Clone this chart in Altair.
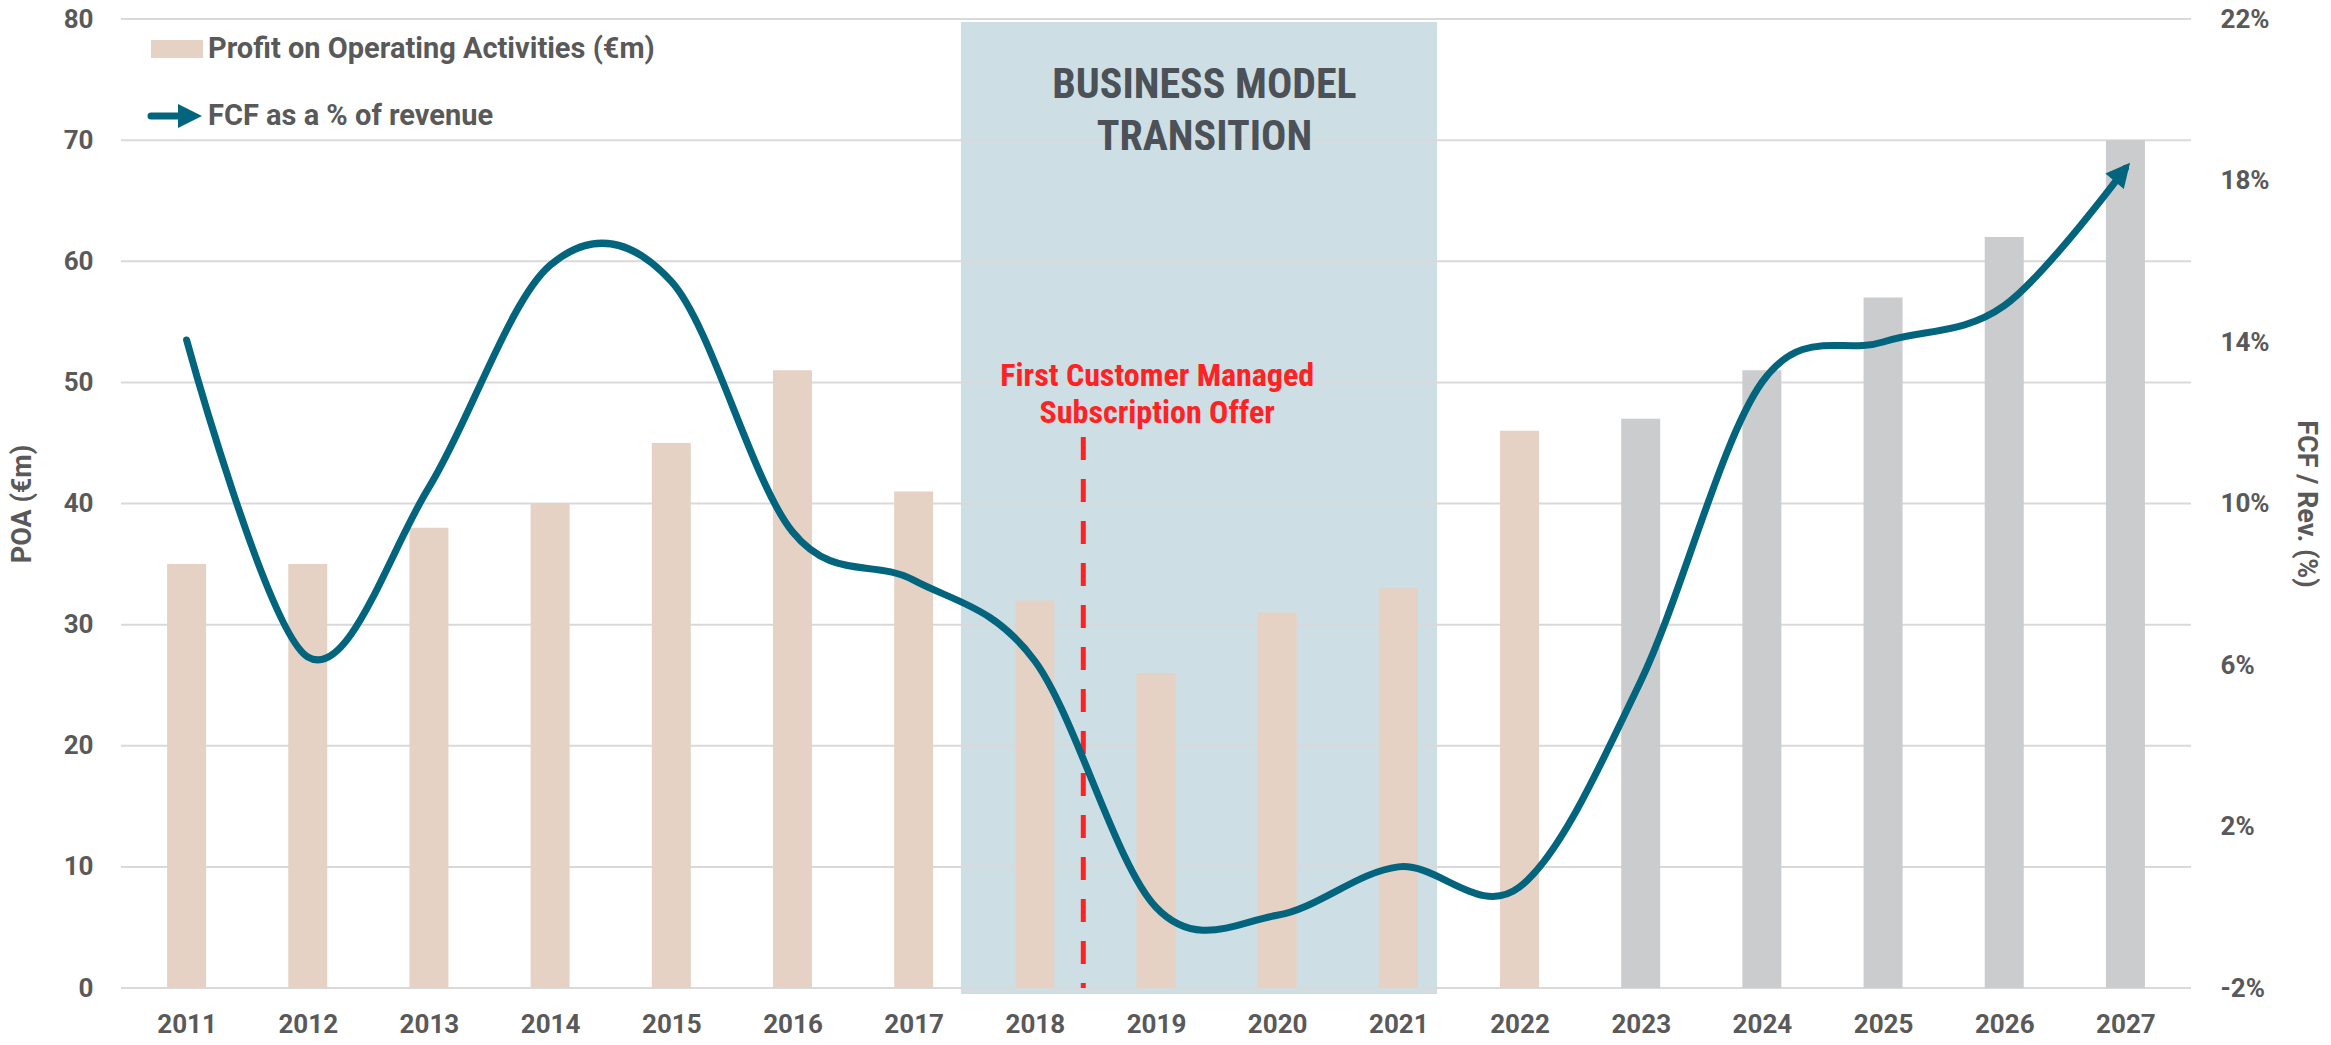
import altair as alt
import pandas as pd

# ---------------- data ----------------
years = list(range(2011, 2028))
poa = [35, 35, 38, 40, 45, 51, 41, 32, 26, 31, 33, 46, 47, 51, 57, 62, 70]
period = ["Actual"] * 12 + ["Forecast"] * 5
fcf_pct = [14.05, 6.2, 10.4, 15.9, 15.5, 9.3, 8.1, 6.1, 0.0, -0.2, 1.0, 0.5,
           5.6, 13.0, 14.0, 14.9, 18.3]
poa_ticks = [0, 10, 20, 30, 40, 50, 60, 70, 80]
fcf_ticks = [-2, 2, 6, 10, 14, 18, 22]
legend_labels = ["Profit on Operating Activities (€m)", "FCF as a % of revenue"]
transition_span = {"start": 2017.39, "end": 2021.32, "top": 79.75, "bottom": -0.5}
transition_label = "BUSINESS MODEL\nTRANSITION"
transition_label_pos = {"x": 2019.4, "y": 73.5}
milestone = {"x": 2018.4, "top": 45.5, "bottom": 0}
milestone_label = "First Customer Managed\nSubscription Offer"
milestone_label_pos = {"x": 2019.01, "y": 49.7}

# ---------------- style ----------------
FONT = "Roboto"
NARROW = "'Roboto Condensed', 'Liberation Sans Narrow', 'DejaVu Sans Condensed', Roboto"
GREY_TXT = "#595959"
BEIGE = "#e6d2c4"
GREY_BAR = "#cbcccd"
TEAL = "#03647e"
RED = "#ff2222"
BAND = "#cddfe5"
GRID = "#d9d9d9"
W, H = 2070, 969

x_scale = alt.Scale(domain=[2010.5, 2027.5], nice=False, zero=False)
y_left = alt.Scale(domain=[0, 80], nice=False, zero=False)
y_right = alt.Scale(domain=[-2, 22], nice=False, zero=False)

x_axis = alt.Axis(title=None, values=years, format="d", labelFont=FONT,
                  labelFontSize=26, labelFontWeight="bold", labelColor=GREY_TXT,
                  ticks=False, domain=False, grid=False, labelPadding=23)
y_axis_left = alt.Axis(title="POA (€m)", values=poa_ticks, format="d",
                       labelFont=FONT, labelFontSize=26, labelFontWeight="bold",
                       labelColor=GREY_TXT, ticks=False, domain=False, grid=False,
                       labelPadding=28, titleFont=FONT, titleFontSize=27,
                       titleFontWeight="bold", titleColor=GREY_TXT,
                       titleX=-99, titleY=H / 2, titleAngle=270,
                       titleBaseline="middle", titleAlign="center")
y_axis_right = alt.Axis(title="FCF / Rev. (%)", orient="right", values=fcf_ticks,
                        labelExpr="datum.value + '%'", labelFont=FONT,
                        labelFontSize=26, labelFontWeight="bold",
                        labelColor=GREY_TXT, ticks=False, domain=False,
                        grid=False, labelPadding=29, titleFont=FONT,
                        titleFontSize=27, titleFontWeight="bold",
                        titleColor=GREY_TXT, titleX=114, titleY=H / 2,
                        titleAngle=90, titleBaseline="middle", titleAlign="center")


def X(field):
    return alt.X(field, type="quantitative", scale=x_scale, axis=x_axis)


def YL(field):
    return alt.Y(field, type="quantitative", scale=y_left, axis=y_axis_left)


def YR(field):
    return alt.Y(field, type="quantitative", scale=y_right, axis=y_axis_right)


df = pd.DataFrame({"year": years, "poa": poa, "period": period, "fcf": fcf_pct})

band = alt.Chart(pd.DataFrame([transition_span])).mark_rect(color=BAND).encode(
    x=X("start"), x2="end", y=YL("top"), y2="bottom")

grid = alt.Chart(pd.DataFrame({"v": poa_ticks})).mark_rule(
    color=GRID, strokeWidth=2).encode(y=YL("v"))

bars = alt.Chart(df).mark_bar(size=39).encode(
    x=X("year"), y=YL("poa"),
    color=alt.Color("period:N", scale=alt.Scale(domain=["Actual", "Forecast"],
                                                 range=[BEIGE, GREY_BAR]),
                    legend=None))

milestone_rule = alt.Chart(pd.DataFrame([milestone])).mark_rule(
    color=RED, strokeWidth=5, strokeDash=[23, 19]).encode(
    x=X("x"), y=YL("top"), y2="bottom")

milestone_text = alt.Chart(pd.DataFrame([{**milestone_label_pos, "t": milestone_label}])).mark_text(
    font=NARROW, fontSize=32, fontWeight="bold", color=RED, align="center",
    baseline="alphabetic", lineBreak="\n", lineHeight=37).encode(
    x=X("x"), y=YL("y"), text="t:N")

transition_text = alt.Chart(pd.DataFrame([{**transition_label_pos, "t": transition_label}])).mark_text(
    font=NARROW, fontSize=42, fontWeight="bold", color="#4b5157", align="center",
    baseline="alphabetic", lineBreak="\n", lineHeight=52).encode(
    x=X("x"), y=YL("y"), text="t:N")

# legend (manual)
leg_df = pd.DataFrame({"label": legend_labels})
leg_swatch = alt.Chart(leg_df.head(1)).mark_rect(color=BEIGE).encode(
    x=alt.value(30), x2=alt.value(82), y=alt.value(21), y2=alt.value(39))
leg_text1 = alt.Chart(leg_df.head(1)).mark_text(
    font=FONT, fontSize=29, fontWeight="bold", color=GREY_TXT, align="left",
    baseline="alphabetic").encode(x=alt.value(87), y=alt.value(39), text="label:N")
leg_line = alt.Chart(leg_df.tail(1)).mark_rule(
    color=TEAL, strokeWidth=7, strokeCap="round").encode(
    x=alt.value(30), x2=alt.value(62), y=alt.value(97))
leg_head = alt.Chart(leg_df.tail(1)).mark_point(
    shape="M-2,-1L0,0L-2,1Z", size=576, filled=True, color=TEAL, opacity=1).encode(
    x=alt.value(81), y=alt.value(97))
leg_text2 = alt.Chart(leg_df.tail(1)).mark_text(
    font=FONT, fontSize=29, fontWeight="bold", color=GREY_TXT, align="left",
    baseline="alphabetic").encode(x=alt.value(87), y=alt.value(106), text="label:N")

left = alt.layer(band, grid, bars, milestone_rule, milestone_text, transition_text,
                 leg_swatch, leg_text1, leg_line, leg_head, leg_text2)

line = alt.Chart(df).mark_line(color=TEAL, strokeWidth=7, interpolate="cardinal",
                               strokeCap="round").encode(x=X("year"), y=YR("fcf"))
arrow = alt.Chart(df.tail(1)).mark_point(
    shape="M-1.4,-1L0.6,0L-1.4,1Z", size=576, filled=True, color=TEAL, opacity=1,
    angle=310).encode(x=X("year"), y=YR("fcf"))
right = alt.layer(line, arrow)

chart = alt.layer(left, right).resolve_scale(y="independent").properties(
    width=W, height=H,
    autosize=alt.AutoSizeParams(type="none"),
    padding={"left": 113, "top": 11, "right": 132, "bottom": 49},
    background="white",
).configure_view(stroke=None)

chart.save("out.html", embed_options={"renderer": "svg", "actions": False})
